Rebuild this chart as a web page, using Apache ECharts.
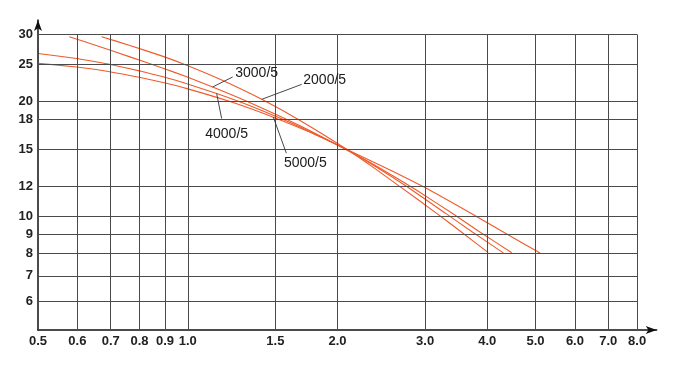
<!DOCTYPE html>
<html><head><meta charset="utf-8">
<script src="https://cdn.jsdelivr.net/npm/echarts@6/dist/echarts.min.js"></script>
<style>html,body{margin:0;padding:0;background:#fff}#c{width:673px;height:370px}</style>
</head><body><div id="c"></div>
<script>
// ---- data ----
const xTicks = [0.5, 0.6, 0.7, 0.8, 0.9, 1.0, 1.5, 2.0, 3.0, 4.0, 5.0, 6.0, 7.0, 8.0];
const xTickLabels = ['0.5','0.6','0.7','0.8','0.9','1.0','1.5','2.0','3.0','4.0','5.0','6.0','7.0','8.0'];
const yTicks = [6, 7, 8, 9, 10, 12, 15, 18, 20, 25, 30];
const yTickLabels = ['6','7','8','9','10','12','15','18','20','25','30'];
const seriesNames = ['2000/5', '3000/5', '4000/5', '5000/5'];

const x2000 = [0.671, 0.765, 0.892, 0.992, 1.161, 1.408, 1.681, 2.090, 2.379, 2.670, 3.169, 3.558, 4.018];
const y2000 = [29.61, 28.08, 26.29, 24.95, 22.89, 20.29, 17.86, 14.99, 13.36, 11.99, 10.19, 9.09, 8.05];

const x3000 = [0.578, 0.666, 0.765, 0.892, 0.992, 1.122, 1.334, 1.681, 2.090, 2.379, 2.775, 3.289, 3.727, 4.308];
const y3000 = [29.61, 27.86, 26.21, 24.47, 23.28, 21.86, 19.89, 17.31, 14.94, 13.55, 11.92, 10.23, 9.13, 8.04];

const x4000 = [0.5, 0.598, 0.692, 0.803, 0.892, 0.992, 1.143, 1.334, 1.681, 2.090, 2.435, 2.885, 3.418, 3.837, 4.479];
const y4000 = [26.76, 25.96, 25.10, 24.06, 23.24, 22.33, 21.02, 19.52, 17.18, 14.95, 13.40, 11.73, 10.16, 9.17, 8.05];

const x5000 = [0.5, 0.598, 0.692, 0.803, 0.892, 0.992, 1.216, 1.486, 1.761, 2.090, 2.550, 3.022, 3.692, 4.282, 5.105];
const y5000 = [25.22, 24.66, 24.01, 23.15, 22.45, 21.68, 20.02, 18.22, 16.63, 15.00, 13.25, 11.85, 10.24, 9.16, 8.03];

// label anchor points on curves (data space)
const labelAnchors = {
  '2000/5': [1.408, 20.29],
  '3000/5': [1.122, 21.86],
  '4000/5': [1.143, 21.02],
  '5000/5': [1.486, 18.22]
};

// ---- chart ----
const X_MIN = 0.5, X_MAX = 8.76, Y_MIN = 5.05, Y_MAX = 32.74;
const font = 'Arial, "Liberation Sans", Helvetica, sans-serif';
const chart = echarts.init(document.getElementById('c'), null, {renderer: 'canvas'});

const zip = (xs, ys) => xs.map((x, i) => [x, ys[i]]);
const curveData = [zip(x2000, y2000), zip(x3000, y3000), zip(x4000, y4000), zip(x5000, y5000)];

const gridColor = '#4a4a4a';
const vLines = xTicks.map((v, i) => [
  {coord: [v, Y_MIN], name: xTickLabels[i]},
  {coord: [v, yTicks[yTicks.length - 1]]}
]);
const hLines = yTicks.map((v, i) => [
  {coord: [X_MIN, v], name: yTickLabels[i]},
  {coord: [xTicks[xTicks.length - 1], v]}
]);

const axisCommon = {
  splitLine: {show: false},
  axisTick: {show: false},
  axisLabel: {show: false},
  axisLine: {show: true, symbol: ['none', 'arrow'], symbolSize: [6, 11], symbolOffset: [0, 0],
             lineStyle: {color: '#111', width: 1.5}}
};
const tickLabel = {show: true, position: 'start', formatter: '{b}', color: '#222',
                   fontFamily: font, fontWeight: 'bold', fontSize: 13};

const option = {
  animation: false,
  backgroundColor: '#fff',
  grid: {left: 38, right: 16.3, top: 20, bottom: 40, containLabel: false},
  xAxis: Object.assign({type: 'log', logBase: 10, min: X_MIN, max: X_MAX}, axisCommon),
  yAxis: Object.assign({type: 'log', logBase: 10, min: Y_MIN, max: Y_MAX}, axisCommon),
  series: [
    {
      type: 'line', name: 'gridV', data: [], z: 1, silent: true,
      markLine: {
        silent: true, symbol: ['none', 'none'], animation: false,
        lineStyle: {color: gridColor, width: 1, type: 'solid'},
        label: Object.assign({distance: 5}, tickLabel),
        emphasis: {disabled: true},
        data: vLines
      }
    },
    {
      type: 'line', name: 'gridH', data: [], z: 1, silent: true,
      markLine: {
        silent: true, symbol: ['none', 'none'], animation: false,
        lineStyle: {color: gridColor, width: 1, type: 'solid'},
        label: Object.assign({distance: 5}, tickLabel),
        emphasis: {disabled: true},
        data: hLines
      }
    }
  ].concat(seriesNames.map((n, i) => ({
    type: 'line', name: n, data: curveData[i], z: 3,
    showSymbol: false, smooth: 0.15, silent: true,
    lineStyle: {color: '#ef5a2a', width: 1.1}
  })))
};
chart.setOption(option);

// annotations: leader lines + labels, anchored to curve points
const annot = {
  '3000/5': {leader: [20, -10], text: [44, -14]},
  '2000/5': {leader: [40, -15], text: [63, -19]},
  '4000/5': {leader: [5, 25], text: [10, 41]},
  '5000/5': {leader: [13, 36], text: [32, 46]}
};
const elements = [];
seriesNames.forEach(n => {
  const p = chart.convertToPixel({gridIndex: 0}, labelAnchors[n]);
  const a = annot[n];
  elements.push({
    type: 'line', silent: true, z: 10,
    shape: {x1: p[0], y1: p[1], x2: p[0] + a.leader[0], y2: p[1] + a.leader[1]},
    style: {stroke: '#333', lineWidth: 0.9}
  });
  elements.push({
    type: 'text', silent: true, z: 10,
    x: p[0] + a.text[0], y: p[1] + a.text[1],
    style: {text: n, fill: '#1a1a1a', font: '14px ' + font, align: 'center', verticalAlign: 'middle'}
  });
});
chart.setOption({graphic: {elements: elements}});
</script>
</body></html>
